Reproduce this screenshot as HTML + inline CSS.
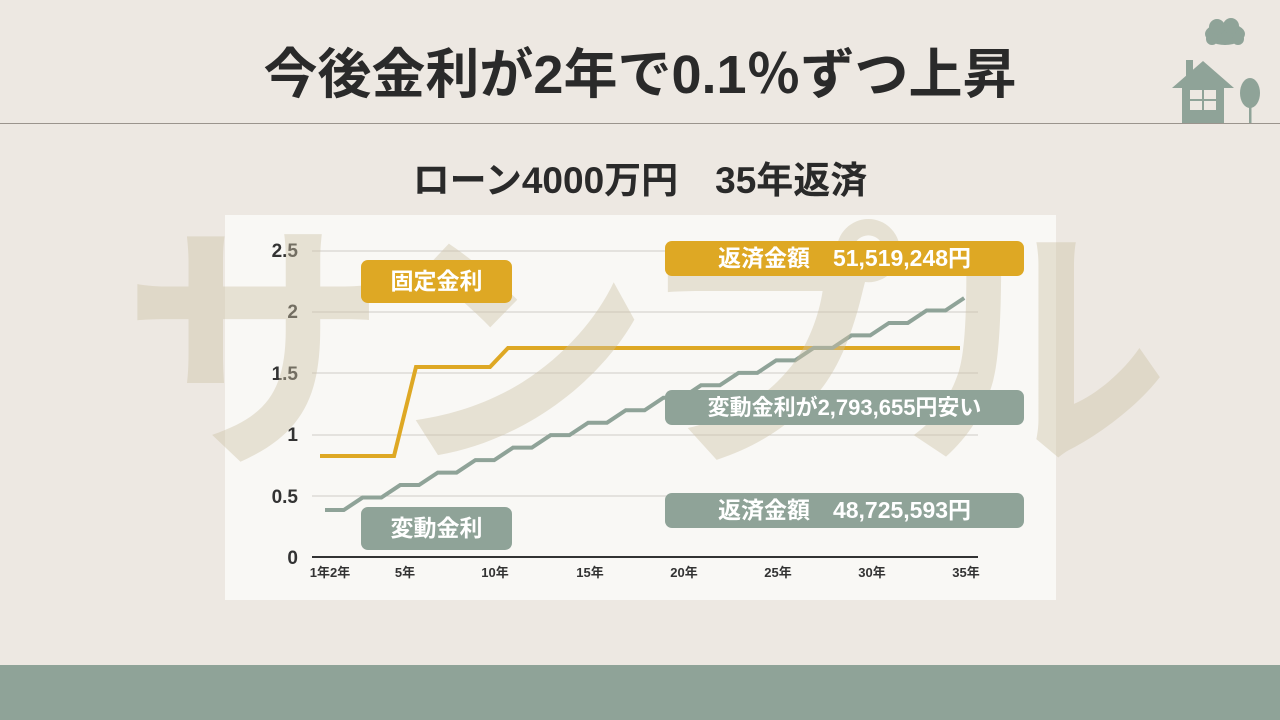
<!DOCTYPE html>
<html><head><meta charset="utf-8"><style>
body{margin:0;width:1280px;height:720px;background:#ede8e2;position:relative;overflow:hidden;font-family:"Liberation Sans","Noto Sans CJK JP",sans-serif;color:#2a2a2a}
.t{position:absolute;left:0;width:1280px;text-align:center;font-weight:bold}
.lab{position:absolute;border-radius:7px;color:#fff;font-weight:bold;text-align:center;font-size:23px}
</style></head><body>
<div class="t" style="top:40px;font-size:54px;line-height:70px">今後金利が2年で0.1％ずつ上昇</div>
<div style="position:absolute;left:0;top:123px;width:1280px;height:1px;background:#9a948d"></div>
<div class="t" style="top:157px;font-size:37px;line-height:48px">ローン4000万円　35年返済</div>
<div style="position:absolute;left:0;top:665px;width:1280px;height:55px;background:#8fa398"></div>
<div style="position:absolute;left:225px;top:215px;width:831px;height:385px;background:#f9f8f5"></div>
<svg style="position:absolute;left:0;top:0" width="1280" height="720">
<g fill="#8fa398">
<ellipse cx="1225" cy="34" rx="20" ry="11"/><circle cx="1217" cy="27" r="8"/><circle cx="1231" cy="26" r="8"/><circle cx="1212" cy="39" r="6"/><circle cx="1238" cy="39" r="6"/>
<rect x="1186" y="60" width="7" height="20"/><polygon points="1172,88 1203,61 1234,88"/><rect x="1182" y="85" width="42" height="38"/>
<ellipse cx="1250" cy="93" rx="10" ry="15"/><rect x="1249" y="100" width="2.5" height="23"/>
</g>
<g fill="#ede8e2"><rect x="1190" y="90" width="26" height="20"/></g>
<g stroke="#8fa398" stroke-width="2"><line x1="1203" y1="90" x2="1203" y2="110"/><line x1="1190" y1="100" x2="1216" y2="100"/></g>
<g stroke="#d0ccc6" stroke-width="1">
<line x1="312" y1="251" x2="978" y2="251"/><line x1="312" y1="312" x2="978" y2="312"/><line x1="312" y1="373" x2="978" y2="373"/><line x1="312" y1="435" x2="978" y2="435"/><line x1="312" y1="496" x2="978" y2="496"/></g>
<line x1="312" y1="557" x2="978" y2="557" stroke="#333" stroke-width="2"/>
<g font-size="19" font-weight="bold" fill="#333" text-anchor="end" font-family="Liberation Sans,sans-serif">
<text x="298" y="257">2.5</text><text x="298" y="318">2</text><text x="298" y="380">1.5</text><text x="298" y="441">1</text><text x="298" y="503">0.5</text><text x="298" y="564">0</text></g>
<g font-size="13" font-weight="bold" fill="#333" text-anchor="middle" font-family="Liberation Sans,Noto Sans CJK JP,sans-serif">
<text x="330" y="577">1年2年</text><text x="405" y="577">5年</text><text x="495" y="577">10年</text><text x="590" y="577">15年</text><text x="684" y="577">20年</text><text x="778" y="577">25年</text><text x="872" y="577">30年</text><text x="966" y="577">35年</text></g>
<polyline fill="none" stroke="#dea824" stroke-width="4" points="320,456 394,456 416,367 490,367 508,348 960,348"/>
<polyline id="g" fill="none" stroke="#8fa398" stroke-width="4" points=""/>
</svg>
<div style="position:absolute;left:122px;top:164px;font-size:265px;font-weight:bold;color:rgba(205,192,165,0.42);white-space:nowrap;letter-spacing:-2px;line-height:380px">サンプル</div>
<div class="lab" style="left:361px;top:260px;width:151px;height:43px;line-height:43px;background:#dea824">固定金利</div>
<div class="lab" style="left:361px;top:507px;width:151px;height:43px;line-height:43px;background:#8fa398">変動金利</div>
<div class="lab" style="left:665px;top:241px;width:359px;height:35px;line-height:35px;background:#dea824">返済金額　51,519,248円</div>
<div class="lab" style="left:665px;top:390px;width:359px;height:35px;line-height:35px;background:#8fa398;font-size:22px">変動金利が2,793,655円安い</div>
<div class="lab" style="left:665px;top:493px;width:359px;height:35px;line-height:35px;background:#8fa398">返済金額　48,725,593円</div>
<script>
var p=[],x=325,y=510;p.push(x+','+y);
for(var i=0;i<17;i++){x+=18.8;p.push(x+','+y);x+=18.8;y-=12.47;p.push(x+','+y);}
document.getElementById('g').setAttribute('points',p.join(' '));
</script>
</body></html>
